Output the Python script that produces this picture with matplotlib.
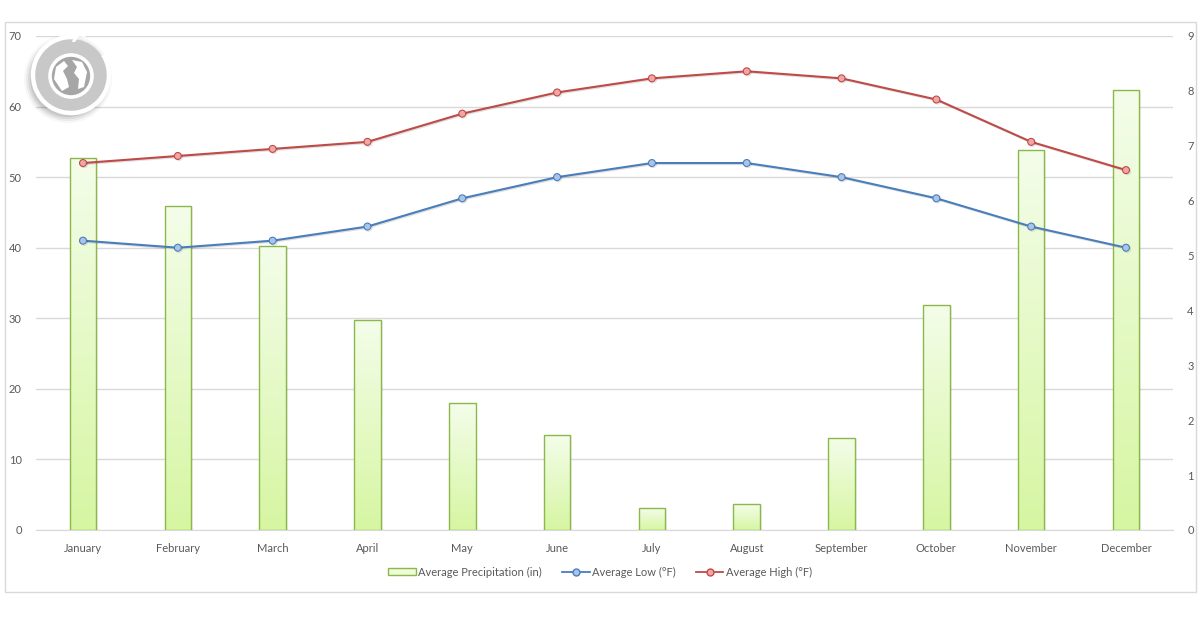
import numpy as np
import matplotlib
matplotlib.use("Agg")
import matplotlib.pyplot as plt
import matplotlib.patheffects as pe
from matplotlib.patches import Rectangle, Circle, Polygon, Arc
from matplotlib.lines import Line2D

plt.rcParams['font.family'] = ['Lato', 'DejaVu Sans']

# data
months = ["January", "February", "March", "April", "May", "June", "July",
          "August", "September", "October", "November", "December"]
precip_in = [6.78, 5.90, 5.17, 3.83, 2.31, 1.73, 0.40, 0.47, 1.68, 4.10, 6.92, 8.01]
low_f = [41, 40, 41, 43, 47, 50, 52, 52, 50, 47, 43, 40]
high_f = [52, 53, 54, 55, 59, 62, 64, 65, 64, 61, 55, 51]

TXT = "#595959"
GRID = "#d9d9d9"
BLUE = "#4a7ebb"
BLUE_FILL = "#a9c4e8"
RED = "#be4b48"
RED_FILL = "#f2a6a4"
BAR_EDGE = "#8cb84a"

fig = plt.figure(figsize=(12, 6.3), dpi=100)

# outer frame
fig.patches.append(Rectangle((5 / 1200, 1 - 592 / 630), 1191 / 1200, 570 / 630,
                             transform=fig.transFigure, fill=False,
                             edgecolor=GRID, linewidth=1))

rect = [35.6 / 1200, 100 / 630, 1137.8 / 1200, 494 / 630]
ax = fig.add_axes(rect)
x = np.arange(len(months))

ax.set_xlim(-0.5, len(months) - 0.5)
ax.set_ylim(0, 70)
ax.set_yticks(range(0, 71, 10))
ax.yaxis.grid(True, color=GRID, linewidth=1)
ax.set_axisbelow(True)
for s in ["top", "right", "left"]:
    ax.spines[s].set_visible(False)
ax.spines["bottom"].set_color(GRID)
ax.set_xticks(x)
ax.set_xticklabels(months)
ax.tick_params(axis="both", length=0, colors=TXT, labelsize=8)
ax.tick_params(axis="y", pad=10)
ax.tick_params(axis="x", pad=9)

# bars on right axis
ax2 = ax.twinx()
ax2.set_ylim(0, 9)
ax2.set_yticks(range(0, 10))
for s in ax2.spines.values():
    s.set_visible(False)
ax2.tick_params(axis="y", length=0, colors=TXT, labelsize=8, pad=10)

grad = np.linspace(0, 1, 256).reshape(-1, 1)
cmap = matplotlib.colors.LinearSegmentedColormap.from_list(
    "barg", ["#d6f6a2", "#f4fdea"])
bw = 0.28
bars = ax2.bar(x, precip_in, width=bw, color="none", edgecolor=BAR_EDGE,
               linewidth=1.0, zorder=3)
for b in bars:
    bx, by = b.get_x(), b.get_y()
    bwid, bh = b.get_width(), b.get_height()
    # soft shadow
    ax2.add_patch(Rectangle((bx + 0.02, by), bwid, bh - 0.02, facecolor="#000000",
                            alpha=0.06, edgecolor="none", zorder=1))
    im = ax2.imshow(grad, extent=(bx, bx + bwid, by, by + bh), origin="lower",
                    cmap=cmap, aspect="auto", zorder=2)
    im.set_clip_path(b)
ax2.set_xlim(-0.5, len(months) - 0.5)
ax2.set_ylim(0, 9)

# lines on top
ax3 = ax.twinx()
ax3.set_ylim(0, 70)
ax3.set_xlim(-0.5, len(months) - 0.5)
ax3.axis("off")
shadow = [pe.SimpleLineShadow(offset=(0.8, -0.8), alpha=0.12), pe.Normal()]
for vals, col, fill in [(low_f, BLUE, BLUE_FILL), (high_f, RED, RED_FILL)]:
    ax3.plot(x, vals, color=col, linewidth=1.5, marker="o", markersize=5,
             markerfacecolor=fill, markeredgecolor=col, markeredgewidth=0.8,
             zorder=5, path_effects=shadow)

# legend
handles = [
    Rectangle((0, 0), 1, 1, facecolor="#eefcd9", edgecolor=BAR_EDGE, linewidth=1),
    Line2D([], [], color=BLUE, linewidth=1.3, marker="o", markersize=5,
           markerfacecolor=BLUE_FILL, markeredgecolor=BLUE),
    Line2D([], [], color=RED, linewidth=1.3, marker="o", markersize=5,
           markerfacecolor=RED_FILL, markeredgecolor=RED),
]
labels = ["Average Precipitation (in)", "Average Low (°F)", "Average High (°F)"]
leg = fig.legend(handles, labels, loc="center", ncol=3, frameon=False,
                 bbox_to_anchor=(0.5, 1 - 572 / 630), fontsize=8,
                 handlelength=2.5, handleheight=0.6, columnspacing=1.8,
                 handletextpad=0.2)
for t in leg.get_texts():
    t.set_color(TXT)

# logo watermark (1 unit = 1 px)
lax = fig.add_axes([21 / 1200, 1 - 125 / 630, 100 / 1200, 100 / 630])
lax.set_xlim(-50, 50)
lax.set_ylim(-50, 50)
lax.set_aspect("equal")
lax.axis("off")
for r, a in [(44, 0.03), (42, 0.05), (40, 0.07), (38, 0.08)]:
    lax.add_patch(Circle((-3, -4), r, facecolor="#000000", alpha=a, edgecolor="none"))
lax.add_patch(Circle((0, 0), 36, facecolor="#c8c8c8", edgecolor="none"))
lax.add_patch(Arc((0, 0), 76, 76, theta1=82, theta2=392, color="white", linewidth=3.2))
# plane
lax.add_patch(Polygon([(-4, 40), (8, 40), (14, 43), (16, 40.5), (14, 38), (8, 38.5),
                       (4, 33), (1, 33), (3, 38.5), (-4, 37.5)],
                      closed=True, facecolor="white", edgecolor="none"))
lax.add_patch(Circle((0, -1), 21, facecolor="#a6a6a6", edgecolor="white", linewidth=2.6))
# continents
lax.add_patch(Polygon([(-15, 8), (-7, 14), (-3, 9), (-8, 4), (-4, -4), (-2, -12),
                       (-9, -16), (-17, -4)],
                      closed=True, facecolor="white", edgecolor="none"))
lax.add_patch(Polygon([(1, 15), (11, 13), (16, 3), (13, -12), (7, -14), (8, -4),
                       (3, 2), (6, 8)],
                      closed=True, facecolor="white", edgecolor="none"))

fig.savefig("out.png", dpi=100)
